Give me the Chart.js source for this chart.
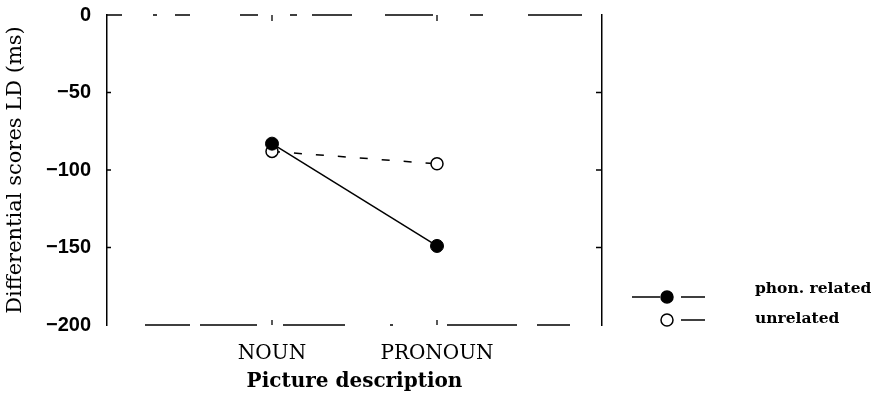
<!DOCTYPE html>
<html>
<head>
<meta charset="utf-8">
<script src="https://cdn.jsdelivr.net/npm/chart.js@4"></script>
<style>
  html, body { margin: 0; padding: 0; background: #fff; }
  #wrap { width: 876px; height: 403px; position: relative; }
</style>
</head>
<body>
<div id="wrap"><canvas id="myChart"></canvas></div>
<script>
// condition means per picture description type
const categories = ['NOUN', 'PRONOUN'];
const phonRelated = [-83, -149];
const unrelated = [-88, -96];
const yTicks = [0, -50, -100, -150, -200];
const seriesNames = ['phon. related', 'unrelated'];

const serif = "'DejaVu Serif', serif";

// broken top/bottom frame lines, short inward tick marks, and the legend at the bottom right
const frameAndLegend = {
    id: 'frameAndLegend',
    beforeDatasetsDraw(chart) {
        const ctx = chart.ctx;
        const area = chart.chartArea;
        const y = chart.scales.y;
        const x = chart.scales.x;
        ctx.save();
        ctx.strokeStyle = '#000';
        ctx.lineWidth = 1.5;
        ctx.beginPath();
        ctx.setLineDash([15, 31, 4, 18, 15, 50, 18, 32, 7, 15, 40, 33, 48, 37, 13, 45, 54, 40]);
        ctx.moveTo(area.left, area.top); ctx.lineTo(area.right, area.top);
        ctx.stroke();
        ctx.beginPath();
        ctx.setLineDash([0, 38, 45, 10, 57, 26, 62, 45, 3, 54, 70, 20, 33, 40]);
        ctx.moveTo(area.left, area.bottom); ctx.lineTo(area.right, area.bottom);
        ctx.stroke();
        ctx.setLineDash([]);

        ctx.lineWidth = 1.3;
        ctx.beginPath();
        yTicks.slice(1, -1).forEach(v => {
            const py = y.getPixelForValue(v);
            ctx.moveTo(area.left, py); ctx.lineTo(area.left + 4, py);
            ctx.moveTo(area.right, py); ctx.lineTo(area.right - 6, py);
        });
        categories.forEach((c, i) => {
            const px = x.getPixelForValue(i + 1);
            ctx.moveTo(px, area.top); ctx.lineTo(px, area.top + 6);
            ctx.moveTo(px, area.bottom); ctx.lineTo(px, area.bottom - 5);
        });
        ctx.stroke();
        ctx.restore();
    },
    afterDraw(chart) {
        const ctx = chart.ctx;
        const rows = [297, 320];
        const textRows = [289, 319];
        const cx = 667;
        ctx.save();
        ctx.strokeStyle = '#000';
        ctx.lineWidth = 1.5;
        rows.forEach((ry, i) => {
            ctx.beginPath();
            if (i === 0) { ctx.moveTo(632, ry); ctx.lineTo(660, ry); }
            ctx.moveTo(681, ry); ctx.lineTo(705, ry);
            ctx.stroke();
            ctx.beginPath();
            ctx.arc(cx, ry, 6, 0, Math.PI * 2);
            ctx.fillStyle = i === 0 ? '#000' : '#fff';
            ctx.fill();
            ctx.stroke();
            ctx.fillStyle = '#000';
            ctx.font = "bold 15.5px " + serif;
            ctx.textBaseline = 'middle';
            ctx.textAlign = 'left';
            ctx.fillText(seriesNames[i], 755, textRows[i]);
        });
        ctx.restore();
    }
};

const noBorder = { display: false };
const solidBorder = { display: true, color: '#000', width: 1.5 };

new Chart(document.getElementById('myChart'), {
    type: 'line',
    data: {
        datasets: [{
            label: seriesNames[0],
            data: phonRelated.map((v, i) => ({ x: i + 1, y: v })),
            borderColor: '#000',
            borderWidth: 1.5,
            pointRadius: 6.5,
            pointBackgroundColor: '#000',
            pointBorderColor: '#000',
            pointBorderWidth: 1,
        }, {
            label: seriesNames[1],
            data: unrelated.map((v, i) => ({ x: i + 1, y: v })),
            borderColor: '#000',
            borderWidth: 1.5,
            borderDash: [8, 14],
            pointRadius: 6,
            pointBackgroundColor: '#fff',
            pointBorderColor: '#000',
            pointBorderWidth: 1.5,
        }]
    },
    options: {
        responsive: true,
        maintainAspectRatio: false,
        animation: false,
        layout: { padding: 0 },
        plugins: {
            legend: { display: false },
            tooltip: { enabled: false },
        },
        scales: {
            x: {
                type: 'linear',
                position: 'bottom',
                min: 0,
                max: 3,
                afterBuildTicks: s => { s.ticks = categories.map((c, i) => ({ value: i + 1 })); },
                afterFit: s => { s.height = 78; s.paddingLeft = 0; s.paddingRight = 0; },
                grid: { display: false },
                border: noBorder,
                ticks: {
                    color: '#000',
                    padding: 9,
                    font: { family: serif, size: 20 },
                    callback: v => categories[v - 1],
                },
                title: {
                    display: true,
                    text: 'Picture description',
                    color: '#000',
                    font: { family: serif, size: 20, weight: 'bold' },
                    padding: { top: 0, bottom: 9 },
                },
            },
            xTop: {
                type: 'linear',
                position: 'top',
                min: 0,
                max: 3,
                afterFit: s => { s.height = 15; },
                grid: { display: false },
                border: noBorder,
                ticks: { display: false },
            },
            y: {
                min: -200,
                max: 0,
                afterBuildTicks: s => { s.ticks = yTicks.map(v => ({ value: v })); },
                afterFit: s => { s.width = 107; s.paddingTop = 0; s.paddingBottom = 0; },
                grid: { display: false },
                border: solidBorder,
                ticks: {
                    color: '#000',
                    padding: 8,
                    font: { family: "'Liberation Sans', sans-serif", size: 20, weight: 'bold' },
                    callback: v => v < 0 ? '\u2212' + Math.abs(v) : String(v),
                },
                title: {
                    display: true,
                    text: 'Differential scores LD (ms)',
                    color: '#000',
                    font: { family: serif, size: 21 },
                    padding: { top: 3, bottom: 0 },
                },
            },
            yRight: {
                position: 'right',
                min: -200,
                max: 0,
                afterFit: s => { s.width = 274; },
                grid: { display: false },
                border: solidBorder,
                ticks: { display: false },
            },
        },
    },
    plugins: [frameAndLegend],
});
</script>
</body>
</html>
